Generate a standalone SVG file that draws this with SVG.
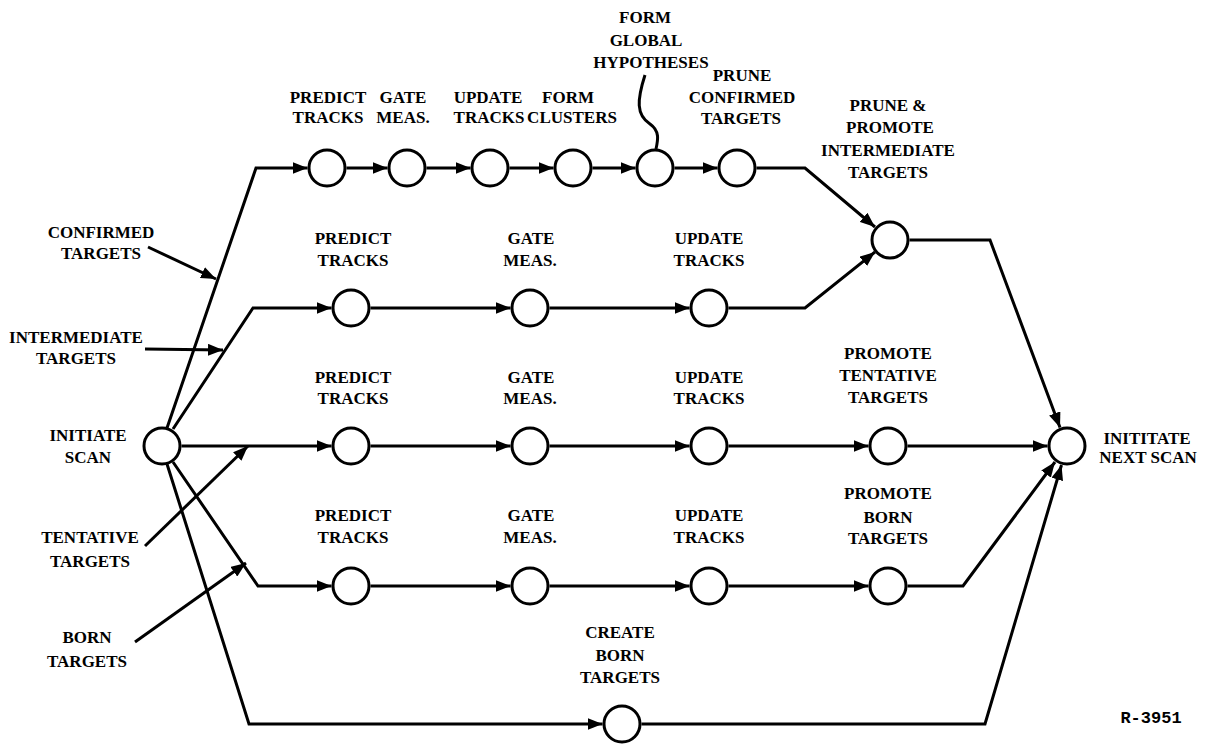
<svg xmlns="http://www.w3.org/2000/svg" width="1209" height="744" viewBox="0 0 1209 744">
<defs>
<marker id="ah" markerUnits="userSpaceOnUse" markerWidth="15" markerHeight="12" refX="15" refY="6" orient="auto">
<path d="M0,0 L15,6 L0,12 z" fill="#000"/>
</marker>
<style>
.n{fill:#fff;stroke:#000;stroke-width:3}
.c{fill:none;stroke:#000;stroke-width:3;stroke-linejoin:miter}
.a{marker-end:url(#ah)}
text{font-family:"Liberation Serif","Times New Roman",serif;font-weight:bold;font-size:17px;text-anchor:middle;fill:#000}
.m{font-family:"Liberation Mono","Courier New",monospace;font-size:17px}
</style>
</defs>
<rect width="1209" height="744" fill="#fff"/>
<g id="connectors">
<path class="c a" d="M167,428 L256,168 L307.5,168"/>
<path class="c a" d="M346.5,168 L387.5,168"/>
<path class="c a" d="M426.5,168 L470.5,168"/>
<path class="c a" d="M509.5,168 L553.5,168"/>
<path class="c a" d="M592.5,168 L635.5,168"/>
<path class="c a" d="M674.5,168 L717.5,168"/>
<path class="c a" d="M756.5,168 L805,168 L875,227"/>
<path class="c a" d="M173,429 L253,308 L331.5,308"/>
<path class="c a" d="M370.5,308 L510.5,308"/>
<path class="c a" d="M549.5,308 L689.5,308"/>
<path class="c a" d="M728.5,308 L805,308 L875,252"/>
<path class="c a" d="M909.5,240 L990,240 L1060,427.5"/>
<path class="c a" d="M181.5,446 L331.5,446"/>
<path class="c a" d="M370.5,446 L510.5,446"/>
<path class="c a" d="M549.5,446 L689.5,446"/>
<path class="c a" d="M728.5,446 L868.5,446"/>
<path class="c a" d="M907.5,446 L1047.5,446"/>
<path class="c a" d="M173,462 L258,586 L331.5,586"/>
<path class="c a" d="M370.5,586 L510.5,586"/>
<path class="c a" d="M549.5,586 L689.5,586"/>
<path class="c a" d="M728.5,586 L868.5,586"/>
<path class="c a" d="M907.5,586 L963,586 L1055,462"/>
<path class="c a" d="M167,464 L249,724 L602.5,724"/>
<path class="c a" d="M641.5,724 L985,724 L1061.5,465"/>
<path class="c a" d="M148,247 L216,279"/>
<path class="c a" d="M145,349 L223,350"/>
<path class="c a" d="M145,546 L248,446"/>
<path class="c a" d="M135,642 L246,563"/>
<path class="c" d="M645,75 C637,100 636,115 650,124 C660,131 658,140 656,149"/>
</g>
<g id="initiate-scan"><circle class="n" cx="162" cy="446" r="18"/><text x="88" y="441">INITIATE</text><text x="88" y="463">SCAN</text></g>
<g id="confirmed-label"><text x="101" y="238">CONFIRMED</text><text x="101" y="259">TARGETS</text></g>
<g id="intermediate-label"><text x="76" y="343">INTERMEDIATE</text><text x="76" y="364">TARGETS</text></g>
<g id="tentative-label"><text x="90" y="543">TENTATIVE</text><text x="90" y="567">TARGETS</text></g>
<g id="born-label"><text x="87" y="643">BORN</text><text x="87" y="667">TARGETS</text></g>
<g id="r1-predict"><circle class="n" cx="327" cy="168" r="18"/><text x="328" y="103">PREDICT</text><text x="328" y="123">TRACKS</text></g>
<g id="r1-gate"><circle class="n" cx="407" cy="168" r="18"/><text x="403" y="103">GATE</text><text x="403" y="123">MEAS.</text></g>
<g id="r1-update"><circle class="n" cx="490" cy="168" r="18"/><text x="488" y="103">UPDATE</text><text x="489" y="123">TRACKS</text></g>
<g id="r1-cluster"><circle class="n" cx="573" cy="168" r="18"/><text x="568" y="103">FORM</text><text x="572" y="123">CLUSTERS</text></g>
<g id="r1-hyp"><circle class="n" cx="655" cy="168" r="18"/><text x="645" y="23">FORM</text><text x="646" y="46">GLOBAL</text><text x="651" y="68">HYPOTHESES</text></g>
<g id="r1-prune"><circle class="n" cx="737" cy="168" r="18"/><text x="742" y="81">PRUNE</text><text x="742" y="103">CONFIRMED</text><text x="741" y="124">TARGETS</text></g>
<g id="prune-promote"><circle class="n" cx="890" cy="240" r="18"/><text x="888" y="111">PRUNE &amp;</text><text x="890" y="133">PROMOTE</text><text x="888" y="156">INTERMEDIATE</text><text x="888" y="178">TARGETS</text></g>
<g id="r2-predict"><circle class="n" cx="351" cy="308" r="18"/><text x="353" y="244">PREDICT</text><text x="353" y="266">TRACKS</text></g>
<g id="r2-gate"><circle class="n" cx="530" cy="308" r="18"/><text x="531" y="244">GATE</text><text x="530" y="266">MEAS.</text></g>
<g id="r2-update"><circle class="n" cx="709" cy="308" r="18"/><text x="709" y="244">UPDATE</text><text x="709" y="266">TRACKS</text></g>
<g id="r3-predict"><circle class="n" cx="351" cy="446" r="18"/><text x="353" y="383">PREDICT</text><text x="353" y="404">TRACKS</text></g>
<g id="r3-gate"><circle class="n" cx="530" cy="446" r="18"/><text x="531" y="383">GATE</text><text x="530" y="404">MEAS.</text></g>
<g id="r3-update"><circle class="n" cx="709" cy="446" r="18"/><text x="709" y="383">UPDATE</text><text x="709" y="404">TRACKS</text></g>
<g id="r3-promote"><circle class="n" cx="888" cy="446" r="18"/><text x="888" y="359">PROMOTE</text><text x="888" y="381">TENTATIVE</text><text x="888" y="403">TARGETS</text></g>
<g id="r4-predict"><circle class="n" cx="351" cy="586" r="18"/><text x="353" y="521">PREDICT</text><text x="353" y="543">TRACKS</text></g>
<g id="r4-gate"><circle class="n" cx="530" cy="586" r="18"/><text x="531" y="521">GATE</text><text x="530" y="543">MEAS.</text></g>
<g id="r4-update"><circle class="n" cx="709" cy="586" r="18"/><text x="709" y="521">UPDATE</text><text x="709" y="543">TRACKS</text></g>
<g id="r4-promote"><circle class="n" cx="888" cy="586" r="18"/><text x="888" y="499">PROMOTE</text><text x="888" y="523">BORN</text><text x="888" y="544">TARGETS</text></g>
<g id="create-born"><circle class="n" cx="622" cy="724" r="18"/><text x="620" y="638">CREATE</text><text x="620" y="661">BORN</text><text x="620" y="683">TARGETS</text></g>
<g id="next-scan"><circle class="n" cx="1067" cy="446" r="18"/><text x="1147" y="444">INITITATE</text><text x="1148" y="463">NEXT SCAN</text></g>
<g id="ref"><text class="m" x="1151" y="723">R-3951</text></g>
</svg>
